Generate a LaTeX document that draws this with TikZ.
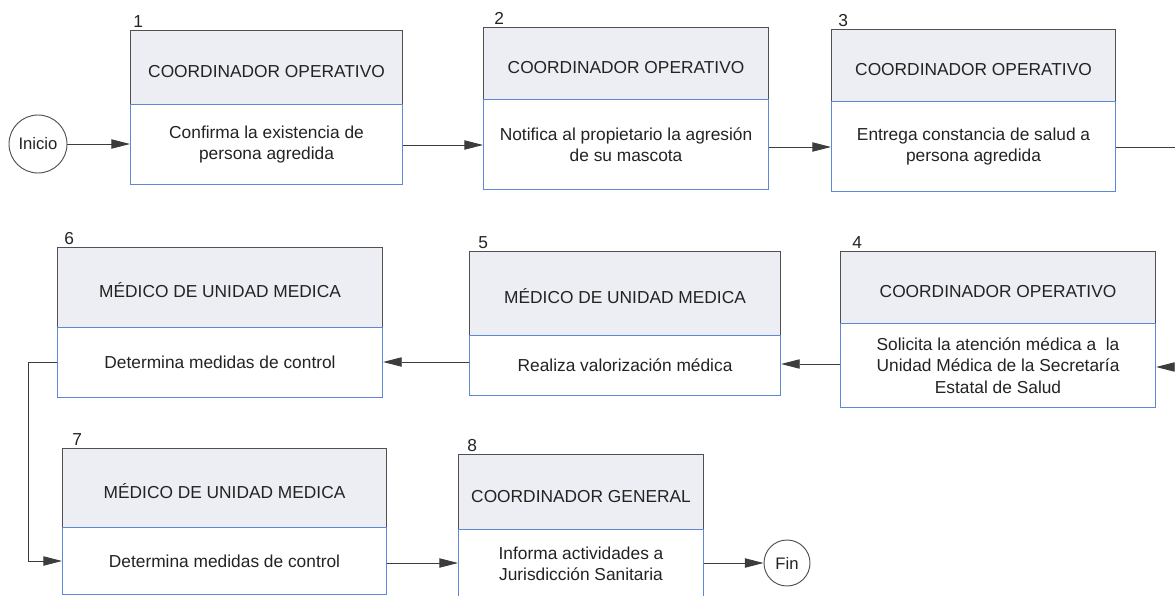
\documentclass[tikz,border=0pt]{standalone}
\usepackage{fontspec}
\setmainfont{Liberation Sans}
\usetikzlibrary{arrows.meta,positioning}
\definecolor{headfill}{RGB}{236,238,243}
\definecolor{headline}{RGB}{80,80,80}
\definecolor{bodyline}{RGB}{95,135,215}
\definecolor{conn}{RGB}{60,60,60}
\definecolor{txt}{RGB}{35,35,35}
\newcommand{\pxu}{0.75pt}
\tikzset{
  headbox/.style={draw=headline, fill=headfill, line width=0.8pt, anchor=north west,
    inner sep=0pt, align=center, text=txt, font=\fontsize{13}{15.5}\selectfont,
    text height=15.5pt, text depth=0pt},
  bodybox/.style={draw=bodyline, fill=white, line width=0.8pt, anchor=north west,
    inner sep=0pt, align=center, text=txt, font=\fontsize{13}{15.5}\selectfont},
  numlabel/.style={anchor=south west, inner sep=0pt, text=txt, font=\fontsize{13}{15}\selectfont},
  terminal/.style={circle, draw=headline, line width=0.7pt, fill=white, inner sep=0pt,
    text=txt, font=\fontsize{12.5}{14}\selectfont},
  flow/.style={draw=conn, line width=0.7pt, -{Triangle[length=14pt,width=7pt]}},
  plainflow/.style={draw=conn, line width=0.7pt}
}
\begin{document}
\begin{tikzpicture}[x=0.75pt,y=-0.75pt]
\useasboundingbox (0,0) rectangle (1175,596);
% step 1
\node[headbox, minimum width=272*\pxu, minimum height=74*\pxu] (h1) at (130,30) {COORDINADOR OPERATIVO};
\node[bodybox, minimum width=272*\pxu, minimum height=80*\pxu] (b1) at (130,104) {Confirma la existencia de\\persona agredida};
\node[numlabel] (n1) at (133,28) {1};
% step 2
\node[headbox, minimum width=285*\pxu, minimum height=72*\pxu] (h2) at (483,27) {COORDINADOR OPERATIVO};
\node[bodybox, minimum width=285*\pxu, minimum height=90*\pxu] (b2) at (483,99) {Notifica al propietario la agresión\\de su mascota};
\node[numlabel] (n2) at (494,25) {2};
% step 3
\node[headbox, minimum width=284*\pxu, minimum height=72*\pxu] (h3) at (831,29) {COORDINADOR OPERATIVO};
\node[bodybox, minimum width=284*\pxu, minimum height=90*\pxu] (b3) at (831,101) {Entrega constancia de salud a\\persona agredida};
\node[numlabel] (n3) at (838,27) {3};
% step 4
\node[headbox, minimum width=315*\pxu, minimum height=72*\pxu] (h4) at (840,251) {COORDINADOR OPERATIVO};
\node[bodybox, minimum width=315*\pxu, minimum height=84*\pxu, font=\fontsize{13}{16}\selectfont] (b4) at (840,323) {Solicita la atención médica a \ la\\Unidad Médica de la Secretaría\\Estatal de Salud};
\node[numlabel] (n4) at (852,249) {4};
% step 5
\node[headbox, minimum width=311*\pxu, minimum height=84*\pxu] (h5) at (469,251) {MÉDICO DE UNIDAD MEDICA};
\node[bodybox, minimum width=311*\pxu, minimum height=60*\pxu] (b5) at (469,335) {Realiza valorización médica};
\node[numlabel] (n5) at (478,249) {5};
% step 6
\node[headbox, minimum width=325*\pxu, minimum height=80*\pxu] (h6) at (57,247) {MÉDICO DE UNIDAD MEDICA};
\node[bodybox, minimum width=325*\pxu, minimum height=70*\pxu] (b6) at (57,327) {Determina medidas de control};
\node[numlabel] (n6) at (64,245) {6};
% step 7
\node[headbox, minimum width=324*\pxu, minimum height=79*\pxu] (h7) at (62,448) {MÉDICO DE UNIDAD MEDICA};
\node[bodybox, minimum width=324*\pxu, minimum height=67*\pxu] (b7) at (62,527) {Determina medidas de control};
\node[numlabel] (n7) at (72,446) {7};
% step 8
\node[headbox, minimum width=245*\pxu, minimum height=75*\pxu] (h8) at (458,454) {COORDINADOR GENERAL};
\node[bodybox, minimum width=245*\pxu, minimum height=69*\pxu] (b8) at (458,529) {Informa actividades a\\Jurisdicción Sanitaria};
\node[numlabel] (n8) at (467,452) {8};
% terminals
\node[terminal, minimum size=58*\pxu] (ini) at (38,144) {Inicio};
\node[terminal, minimum size=46*\pxu] (fin) at (787,563) {Fin};
% off-page turn on the right
\coordinate (r1) at (1195,147);
\coordinate (r2) at (1195,367);
\coordinate (lbend) at (28,450);
% connectors
\draw[flow] (ini) -- (b1.west |- ini);
\draw[flow] (b1.east |- 0,145) -- (b2.west |- 0,145);
\draw[flow] (b2.east |- 0,147) -- (b3.west |- 0,147);
\draw[plainflow] (b3.east |- r1) -- (r1) -- (r2);
\draw[flow] (r2) -- (b4.east |- r2);
\draw[flow] (b4.west |- 0,364) -- (b5.east |- 0,364);
\draw[flow] (b5.west |- 0,362) -- (b6.east |- 0,362);
\draw[flow] (b6.west |- 0,362) -- (lbend |- 0,362) |- (b7.west |- 0,561);
\draw[flow] (b7.east |- 0,563) -- (b8.west |- 0,563);
\draw[flow] (b8.east |- fin) -- (fin);
\end{tikzpicture}
\end{document}
